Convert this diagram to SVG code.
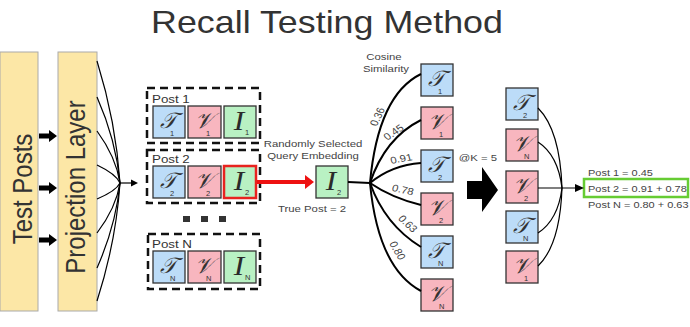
<svg xmlns="http://www.w3.org/2000/svg" width="690" height="327" viewBox="0 0 690 327">
<defs>
<style>
.sans{font-family:"Liberation Sans",Arial,sans-serif;fill:#333}
.title{font-size:32px}
.big{font-size:24px}
.lbl{font-size:11.5px;fill:#333}
.sm{font-size:9.8px;fill:#444}
.yel{fill:#fce7a6;stroke:#aaa;stroke-width:1}
.t{fill:#bcdcf8;stroke:#333;stroke-width:1.3}
.v{fill:#f8b6bf;stroke:#333;stroke-width:1.3}
.i{fill:#b9f1c3;stroke:#333;stroke-width:1.3}
.gl{font-family:"Liberation Serif","DejaVu Serif",serif;font-style:italic;font-size:22px;fill:#333}
.gi{font-family:"Liberation Serif","DejaVu Serif",serif;font-style:italic;font-size:27px;fill:#2a2a2a}
.sub{font-family:"Liberation Sans",Arial,sans-serif;font-size:7.5px;fill:#333}
.dash{fill:none;stroke:#111;stroke-width:2.5;stroke-dasharray:8 5}
.c{fill:none;stroke:#000;stroke-width:1.2}
.cs{fill:none;stroke:#000;stroke-width:2}
</style>
</defs>
<rect width="690" height="327" fill="#fff"/>
<text class="sans title" transform="translate(327,33) scale(1.12,1)" text-anchor="middle">Recall Testing Method</text>

<g id="test-posts">
<rect class="yel" x="0" y="52" width="38" height="259"/>
<text class="sans big" transform="translate(32,189) scale(1.16,1) rotate(-90)" text-anchor="middle">Test Posts</text>
</g>
<g id="projection-layer">
<rect class="yel" x="58" y="52" width="39" height="259"/>
<text class="sans big" transform="translate(85,187) scale(1.16,1) rotate(-90)" text-anchor="middle">Projection Layer</text>
</g>

<g id="post-1">
<rect class="dash" x="147" y="88" width="113" height="55"/>
<text class="sans lbl" transform="translate(152,103) scale(1.16,1)">Post 1</text>
<g transform="translate(153,106)"><rect class="t" width="32" height="32"/><text class="gl" x="15" y="22" text-anchor="middle">𝒯</text><text class="sub" x="17" y="30">1</text></g>
<g transform="translate(188,106)"><rect class="v" width="33" height="32"/><text class="gl" x="16" y="22" text-anchor="middle">𝒱</text><text class="sub" x="18" y="30">1</text></g>
<g transform="translate(224,106)"><rect class="i" width="32" height="32"/><text class="gi" transform="translate(15,24) scale(1.16,1)" text-anchor="middle">I</text><text class="sub" x="21" y="29">1</text></g>
</g>

<g id="post-2">
<rect class="dash" x="147" y="150" width="113" height="53"/>
<text class="sans lbl" transform="translate(152,163) scale(1.16,1)">Post 2</text>
<g transform="translate(153,166)"><rect class="t" width="32" height="32"/><text class="gl" x="15" y="22" text-anchor="middle">𝒯</text><text class="sub" x="17" y="30">2</text></g>
<g transform="translate(188,166)"><rect class="v" width="33" height="32"/><text class="gl" x="16" y="22" text-anchor="middle">𝒱</text><text class="sub" x="18" y="30">2</text></g>
<g transform="translate(224,166)"><rect class="i" width="32" height="32" style="stroke:#e8231f;stroke-width:2.5"/><text class="gi" transform="translate(15,24) scale(1.16,1)" text-anchor="middle">I</text><text class="sub" x="21" y="29">2</text></g>
</g>

<g id="ellipsis" fill="#333">
<rect x="183" y="216" width="7" height="6"/>
<rect x="201" y="216" width="7" height="6"/>
<rect x="219" y="216" width="7" height="6"/>
</g>

<g id="post-n">
<rect class="dash" x="148" y="234" width="112" height="55"/>
<text class="sans lbl" transform="translate(152,248) scale(1.16,1)">Post N</text>
<g transform="translate(153,251)"><rect class="t" width="32" height="32"/><text class="gl" x="15" y="22" text-anchor="middle">𝒯</text><text class="sub" x="17" y="30">N</text></g>
<g transform="translate(188,251)"><rect class="v" width="33" height="32"/><text class="gl" x="16" y="22" text-anchor="middle">𝒱</text><text class="sub" x="18" y="30">N</text></g>
<g transform="translate(224,251)"><rect class="i" width="32" height="32"/><text class="gi" transform="translate(15,24) scale(1.16,1)" text-anchor="middle">I</text><text class="sub" x="21" y="29">N</text></g>
</g>

<g id="query">
<text class="sans sm" transform="translate(313,147) scale(1.16,1)" text-anchor="middle">Randomly Selected</text>
<text class="sans sm" transform="translate(313,159) scale(1.16,1)" text-anchor="middle">Query Embedding</text>
<g transform="translate(316,166)"><rect class="i" width="32" height="32"/><text class="gi" transform="translate(15,24) scale(1.16,1)" text-anchor="middle">I</text><text class="sub" x="21" y="29">2</text></g>
<text class="sans sm" transform="translate(312,212) scale(1.16,1)" text-anchor="middle">True Post = 2</text>
</g>

<g id="similarity">
<text class="sans sm" transform="translate(384,60) scale(1.16,1)" text-anchor="middle">Cosine</text>
<text class="sans sm" transform="translate(386,72) scale(1.16,1)" text-anchor="middle">Similarity</text>
<g id="sim-t1" transform="translate(421,64)"><rect class="t" width="32" height="32"/><text class="gl" x="15" y="22" text-anchor="middle">𝒯</text><text class="sub" x="17" y="30">1</text></g>
<g id="sim-v1" transform="translate(421,107)"><rect class="v" width="32" height="32"/><text class="gl" x="16" y="22" text-anchor="middle">𝒱</text><text class="sub" x="18" y="30">1</text></g>
<g id="sim-t2" transform="translate(421,150)"><rect class="t" width="32" height="32"/><text class="gl" x="15" y="22" text-anchor="middle">𝒯</text><text class="sub" x="17" y="30">2</text></g>
<g id="sim-v2" transform="translate(421,193)"><rect class="v" width="32" height="32"/><text class="gl" x="16" y="22" text-anchor="middle">𝒱</text><text class="sub" x="18" y="30">2</text></g>
<g id="sim-tn" transform="translate(421,236)"><rect class="t" width="32" height="32"/><text class="gl" x="15" y="22" text-anchor="middle">𝒯</text><text class="sub" x="17" y="30">N</text></g>
<g id="sim-vn" transform="translate(421,279)"><rect class="v" width="32" height="32"/><text class="gl" x="16" y="22" text-anchor="middle">𝒱</text><text class="sub" x="18" y="30">N</text></g>
</g>

<text class="sans sm" transform="translate(478,161) scale(1.16,1)" text-anchor="middle">@K = 5</text>

<g id="ranked">
<g id="rk-t2" transform="translate(506,88)"><rect class="t" width="32" height="32"/><text class="gl" x="15" y="22" text-anchor="middle">𝒯</text><text class="sub" x="17" y="30">2</text></g>
<g id="rk-vn" transform="translate(506,129)"><rect class="v" width="32" height="32"/><text class="gl" x="16" y="22" text-anchor="middle">𝒱</text><text class="sub" x="18" y="30">N</text></g>
<g id="rk-v2" transform="translate(506,171)"><rect class="v" width="32" height="32"/><text class="gl" x="16" y="22" text-anchor="middle">𝒱</text><text class="sub" x="18" y="30">2</text></g>
<g id="rk-tn" transform="translate(506,211)"><rect class="t" width="32" height="32"/><text class="gl" x="15" y="22" text-anchor="middle">𝒯</text><text class="sub" x="17" y="30">N</text></g>
<g id="rk-v1" transform="translate(506,251)"><rect class="v" width="32" height="32"/><text class="gl" x="16" y="22" text-anchor="middle">𝒱</text><text class="sub" x="18" y="30">1</text></g>
</g>

<g id="result">
<text class="sans sm" transform="translate(588,176) scale(1.12,1)">Post 1 = 0.45</text>
<rect x="584" y="179" width="104" height="18" fill="none" stroke="#66cc33" stroke-width="2.5"/>
<text class="sans sm" transform="translate(588,192) scale(1.12,1)">Post 2 = 0.91 + 0.78</text>
<text class="sans sm" transform="translate(588,208) scale(1.12,1)">Post N = 0.80 + 0.63</text>
</g>

<g id="connectors">
<polygon fill="#000" points="39,133.5 49,133.5 49,130 57,136 49,142 49,138.5 39,138.5"/>
<polygon fill="#000" points="39,185.5 49,185.5 49,182 57,188 49,194 49,190.5 39,190.5"/>
<polygon fill="#000" points="39,237.5 49,237.5 49,234 57,240 49,246 49,242.5 39,242.5"/>
<path class="c" d="M97,61 Q116,122 120,183"/>
<path class="c" d="M97,97 Q116,140 120,183"/>
<path class="c" d="M97,131 Q116,157 120,183"/>
<path class="c" d="M97,165 Q116,174 120,183"/>
<path class="c" d="M97,199 Q116,191 120,183"/>
<path class="c" d="M97,233 Q116,208 120,183"/>
<path class="c" d="M97,268 Q116,225 120,183"/>
<path class="c" d="M97,301 Q116,242 120,183"/>
<line class="c" x1="120" y1="183" x2="132" y2="183"/>
<polygon fill="#000" points="131,179.5 138,183 131,186.5"/>
<line x1="257" y1="182" x2="306" y2="182" stroke="#ee1111" stroke-width="4"/>
<polygon fill="#ee1111" points="305,175 314,182 305,189"/>
<line class="cs" x1="348" y1="182" x2="370" y2="183"/>
<path class="cs" d="M370,183 Q378,95 421,74"/>
<path class="cs" d="M370,183 Q385,138 421,120"/>
<path class="cs" d="M370,183 Q392,165 421,163"/>
<path class="cs" d="M370,183 Q392,198 421,205"/>
<path class="cs" d="M370,183 Q385,225 421,247"/>
<path class="cs" d="M370,183 Q378,268 421,291"/>
<g class="sans sm">
<text transform="translate(381,118) scale(1.16,1) rotate(-68)" text-anchor="middle">0.36</text>
<text transform="translate(396,135) scale(1.16,1) rotate(-38)" text-anchor="middle">0.45</text>
<text transform="translate(402,162) scale(1.16,1) rotate(-12)" text-anchor="middle">0.91</text>
<text transform="translate(402,193) scale(1.16,1) rotate(14)" text-anchor="middle">0.78</text>
<text transform="translate(405,226) scale(1.16,1) rotate(47)" text-anchor="middle">0.63</text>
<text transform="translate(394,252) scale(1.16,1) rotate(63)" text-anchor="middle">0.80</text>
</g>
<polygon fill="#000" points="467,181 482,181 482,167 498,190 482,212 482,199 467,199"/>
<path class="c" d="M538,108 Q560,130 562,188"/>
<path class="c" d="M538,142 Q558,155 562,188"/>
<line class="c" x1="538" y1="188" x2="576" y2="188"/>
<path class="c" d="M538,233 Q558,220 562,188"/>
<path class="c" d="M538,266 Q560,245 562,188"/>
<polygon fill="#000" points="575,184 584,188 575,192"/>
</g>
</svg>
